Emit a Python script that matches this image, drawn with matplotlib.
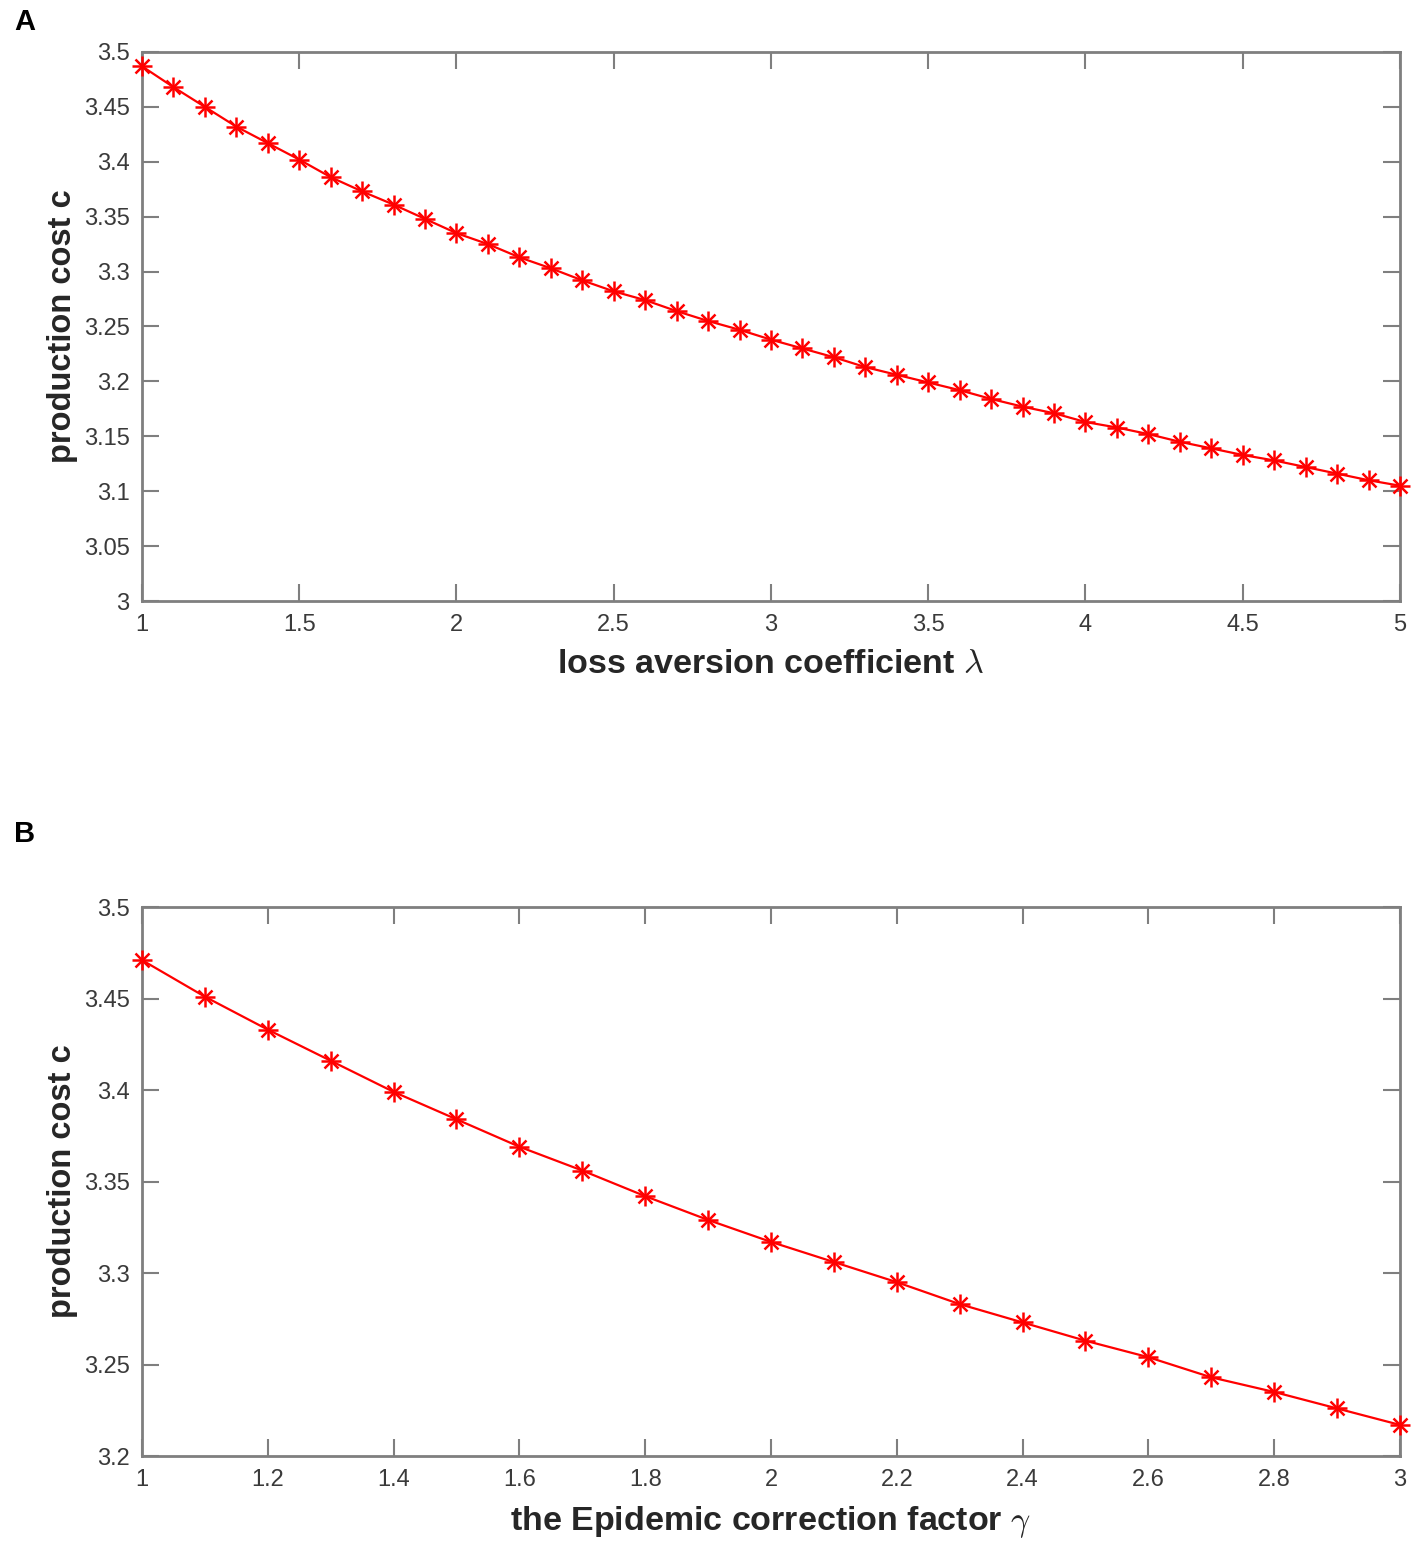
import matplotlib
matplotlib.use("Agg")
import matplotlib.pyplot as plt

plt.rcParams['font.family'] = ['Liberation Sans', 'DejaVu Sans']
plt.rcParams['mathtext.fontset'] = 'cm'

# panel A: loss aversion coefficient
lam = [1.0, 1.1, 1.2, 1.3, 1.4, 1.5, 1.6, 1.7, 1.8, 1.9, 2.0, 2.1, 2.2, 2.3,
       2.4, 2.5, 2.6, 2.7, 2.8, 2.9, 3.0, 3.1, 3.2, 3.3, 3.4, 3.5, 3.6, 3.7,
       3.8, 3.9, 4.0, 4.1, 4.2, 4.3, 4.4, 4.5, 4.6, 4.7, 4.8, 4.9, 5.0]
cost_a = [3.487, 3.468, 3.450, 3.432, 3.417, 3.402, 3.386, 3.373, 3.361,
          3.348, 3.335, 3.325, 3.313, 3.303, 3.292, 3.282, 3.274, 3.264,
          3.255, 3.247, 3.238, 3.230, 3.222, 3.213, 3.206, 3.199, 3.192,
          3.184, 3.177, 3.171, 3.163, 3.158, 3.152, 3.145, 3.139, 3.133,
          3.128, 3.122, 3.116, 3.110, 3.105]
ticks_xa = [1, 1.5, 2, 2.5, 3, 3.5, 4, 4.5, 5]
ticks_ya = [3, 3.05, 3.1, 3.15, 3.2, 3.25, 3.3, 3.35, 3.4, 3.45, 3.5]

# panel B: epidemic correction factor
gam = [1.0, 1.1, 1.2, 1.3, 1.4, 1.5, 1.6, 1.7, 1.8, 1.9, 2.0, 2.1, 2.2, 2.3,
       2.4, 2.5, 2.6, 2.7, 2.8, 2.9, 3.0]
cost_b = [3.471, 3.451, 3.433, 3.416, 3.399, 3.384, 3.369, 3.356, 3.342,
          3.329, 3.317, 3.306, 3.295, 3.283, 3.273, 3.263, 3.254, 3.243,
          3.235, 3.226, 3.217]
ticks_xb = [1, 1.2, 1.4, 1.6, 1.8, 2, 2.2, 2.4, 2.6, 2.8, 3]
ticks_yb = [3.2, 3.25, 3.3, 3.35, 3.4, 3.45, 3.5]

fig = plt.figure(figsize=(14.17, 15.47), dpi=100)
ax1 = fig.add_axes([0.1002, 0.6115, 0.8878, 0.3549])
ax2 = fig.add_axes([0.1002, 0.0588, 0.8878, 0.3549])


def draw(ax, x, y, xt, yt, xlabel):
    ax.plot(x, y, color='red', lw=1.6, clip_on=False, zorder=3)
    ax.plot(x, y, ls='none', marker='+', ms=15, mew=1.8, color='red',
            clip_on=False, zorder=4)
    ax.plot(x, y, ls='none', marker='x', ms=10.5, mew=1.8, color='red',
            clip_on=False, zorder=4)
    ax.set_xlim(xt[0], xt[-1])
    ax.set_ylim(yt[0], yt[-1])
    ax.set_xticks(xt)
    ax.set_xticklabels([('%g' % v) for v in xt])
    ax.set_yticks(yt)
    ax.set_yticklabels([('%g' % v) for v in yt])
    ax.tick_params(direction='in', length=12, width=1.5, color='#7f7f7f',
                   labelsize=17, labelcolor='#3a3a3a', top=True, right=True,
                   pad=9)
    for s in ax.spines.values():
        s.set_color('#7f7f7f')
        s.set_linewidth(2)
    ax.set_xlabel(xlabel, fontsize=24.5, fontweight='bold', color='#262626',
                  labelpad=10)
    ax.set_ylabel('production cost c', fontsize=23.5, fontweight='bold',
                  color='#262626', labelpad=4)


draw(ax1, lam, cost_a, ticks_xa, ticks_ya,
     r'loss aversion coefficient $\lambda$')
draw(ax2, gam, cost_b, ticks_xb, ticks_yb,
     r'the Epidemic correction factor $\gamma$')

fig.text(0.010, 0.995, 'A', fontsize=21, fontweight='bold', va='top')
fig.text(0.010, 0.470, 'B', fontsize=21, fontweight='bold', va='top')

fig.savefig('out.png', dpi=100)
